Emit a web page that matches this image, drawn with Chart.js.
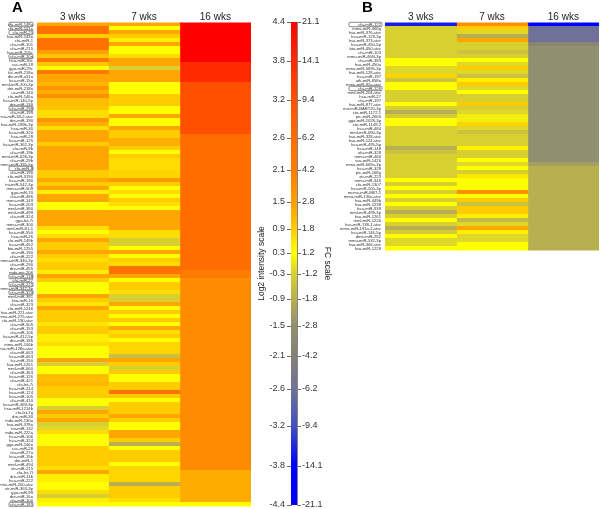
<!DOCTYPE html>
<html>
<head>
<meta charset="utf-8">
<title>miRNA heat maps</title>
<script src="https://cdn.jsdelivr.net/npm/chart.js@4/dist/chart.umd.min.js"></script>
<style>
    body { margin: 0; background: #fff; font-family: "Liberation Sans", Arial, sans-serif; }
    #page { position: relative; width: 600px; height: 509px; overflow: hidden; filter: blur(0.3px); }
    canvas { position: absolute; top: 0; }
    #chartA { left: 0; }
    #scaleBar { left: 255px; }
    #chartB { left: 340px; }
    .panel { position: absolute; top: -2px; font-size: 15px; font-weight: bold; color: #000; }
</style>
</head>
<body>
<div id="page">
    <span class="panel" style="left:12px">A</span>
    <span class="panel" style="left:362px">B</span>
    <canvas id="chartA" width="251" height="507"></canvas>
    <canvas id="scaleBar" width="78" height="509"></canvas>
    <canvas id="chartB" width="259" height="251"></canvas>
</div>
<script>
// --------------- data -----------------------
const weeks = ['3 wks', '7 wks', '16 wks'];

const labelsA = [
    'cfa-miR-148a','cfa-miR-101a','cfa-miR-21','hsa-miR-143a','cfa-miR-1','cfa-miR-101','cfa-miR-215','hsa-miR-205c','cfa-miR-10a','hsa-miR-30c',
    'ssc-miR-18','ggo-miR-29c','fsc-miR-218a','dre-miR-x51a','hsa-miR-15a','mml-miR-200-3p','dre-miR-218a','us-miR-140','cfa-miR-146a','hsa-miR-140-5p',
    'dre-miR-130','cfa-miR-296','cfa-miR-199','hsa-miR-34-2-star','dre-miR-190','hsa-miR-199b-3p','hsa-miR-30','hsa-miR-320','hsa-miR-28','hsa-miR-125',
    'hsa-miR-362-3p','cfa-miR-9b','cfa-miR-19b','mml-miR-628-3p','cfa-miR-29b','mmu-miR-335-5p','cfa-miR-8','cfa-miR-190','cfa-miR-3190','hsa-miR-190',
    'tni-miR-542-3p','mmu-miR-509','ggo-miR-70','cfa-miR-486','mmu-miR-149','hsa-miR-203','mml-miR-380','mml-miR-499','cfa-miR-324','ggo-let-7i',
    'mmu-miR-300','mml-miR-81-1','hsa-miR-550','hsa-miR-26','cfa-miR-149b','hsa-miR-452','bta-miR-1255','xtr-miR-190','cfa-miR-222','mmu-miR-340-3p',
    'cfa-miR-290','dre-miR-455','mdo-mir-206','cfa-miR-138','cfa-miR-27','cfa-miR-221','mmu-miR-342-3p','cfa-miR-320','mml-miR-381','bta-miR-16',
    'cfa-miR-323','cfa-miR-1246','hsa-miR-221-star','mmu-miR-275-star','cfa-miR-130-star','cfa-miR-505','cfa-miR-153','cfa-miR-106','hsa-miR-412-5p','dre-miR-186',
    'mmu-miR-106b','mmu-miR-128a-star','cfa-miR-663','hsa-miR-663','fsc-miR-150','hsa-miR-1261','mml-miR-660','cfa-miR-363','hsa-miR-126','cfa-miR-421',
    'cfa-let-7i','hsa-miR-214','hsa-miR-124','hsa-miR-105','cfa-miR-410','hsa-miR-369-3p','hsa-miR-1214b','cfa-let-7g','dre-miR-30','mdo-miR-130a',
    'hsa-miR-378a','tni-miR-132','mdo-miR-222a','hsa-miR-106','hsa-miR-324','ggo-miR-146a','ssc-miR-28','cfa-miR-27a','hsa-miR-15b','dre-miR-1',
    'mml-miR-494','xtr-miR-215','cfa-let-7f','dre-miR-11b','hsa-miR-222','mmu-miR-200-star','xtr-miR-363-3p','ggo-miR-99','dre-miR-16a','cfa-miR-100',
    'cfa-miR-181'
];
const boxedA = ['cfa-miR-148a','cfa-miR-21','cfa-miR-10a','cfa-miR-296','cfa-miR-8','cfa-miR-138','cfa-miR-221','cfa-miR-320','cfa-miR-181'];

const a3wks = [
    1.4,2.4,2.4,0.9,2.4,2.4,2.4,1.5,1.0,2.2,
    1.0,0.3,2.3,1.4,1.4,1.2,1.7,1.3,1.8,1.1,
    1.1,1.0,0.7,0.7,1.7,1.3,0.7,1.4,1.4,1.4,
    0.9,1.4,1.4,1.4,1.4,1.4,1.4,0.9,0.9,1.4,
    0.9,1.4,0.5,1.4,1.4,0.3,0.3,1.4,1.4,1.4,
    1.4,0.7,0.3,0.7,1.4,0.9,0.9,1.4,0.9,0.7,
    0.9,0.9,0.5,1.4,0.9,0.3,0.3,0.3,1.4,0.9,
    0.6,1.4,0.9,0.9,0.9,0.6,0.9,0.9,0.5,0.5,
    0.7,0.3,0.3,0.3,1.4,-0.3,0.3,0.3,1.1,1.1,
    1.2,0.9,0.9,0.9,0.3,0.3,-0.3,1.4,0.9,1.4,
    -0.3,-0.2,0.7,0.3,0.3,0.3,0.9,0.9,0.9,0.9,
    0.9,0.7,1.4,0.5,0.5,0.3,0.3,0.7,-0.3,0.5,0.3
];
const a7wks = [
    1.4,0.3,1.4,0.9,0.5,1.4,0.3,0.3,0.7,1.4,
    1.4,-0.3,1.4,1.4,1.4,0.3,0.3,0.3,0.9,0.9,
    0.9,0.3,0.3,1.4,0.3,0.3,1.4,0.9,0.9,1.3,
    1.3,0.9,0.3,0.9,0.7,0.7,0.7,0.8,0.8,1.6,
    0.9,0.3,0.7,0.3,0.9,0.7,0.3,1.4,1.4,1.4,
    1.4,1.4,0.7,0.7,-0.3,-0.3,0.3,1.4,0.3,0.9,
    0.7,2.4,2.4,1.4,0.3,0.9,0.9,0.7,-0.3,-0.3,
    1.4,0.3,0.9,0.3,0.9,0.3,1.4,0.7,0.9,0.3,
    0.8,0.8,0.8,-0.6,1.4,0.9,-0.3,0.9,0.3,0.3,
    0.9,0.9,2.4,0.9,0.3,0.9,0.9,0.9,1.4,0.9,
    0.3,0.3,1.4,1.4,0.9,-0.9,0.3,0.9,0.9,0.9,
    0.3,0.8,0.8,0.8,0.8,-0.9,0.9,0.9,0.9,0.7,0.3
];
const a16wks = [
    4.4,4.4,4.4,4.4,4.4,4.4,4.4,4.4,4.4,4.4,
    3.8,3.8,3.8,3.8,3.8,3.2,3.2,3.2,3.2,3.2,
    3.2,3.2,3.2,3.2,3.2,3.2,3.2,3.2,2.6,2.6,
    2.6,2.6,2.6,2.6,2.6,2.6,2.6,2.6,2.6,2.6,
    2.6,2.6,2.6,2.6,2.6,2.6,2.6,2.6,2.6,2.6,
    2.6,2.6,2.6,2.6,2.6,2.6,2.6,2.6,2.6,2.6,
    2.6,2.6,2.1,2.1,1.85,1.85,1.85,1.85,1.85,1.85,
    1.85,1.85,1.85,1.85,1.85,1.85,1.85,1.85,1.85,1.85,
    1.85,1.85,1.85,1.85,1.85,1.85,1.85,1.85,1.85,1.85,
    1.85,1.85,1.85,1.85,1.85,1.85,1.85,1.85,1.85,1.85,
    1.85,1.85,1.85,1.85,1.85,1.85,1.85,1.85,1.85,1.85,
    1.85,1.85,1.35,1.35,1.35,1.35,1.35,1.35,1.35,1.35,0.3
];

const labelsB = [
    'cfa-miR-122','mmu-miR-466g','hsa-miR-376-star','hsa-miR-129-3p','hsa-miR-373-star','hsa-miR-450-5p','bta-miR-450-star','cfa-miR-103','mmu-miR-466f-3p','cfa-miR-383',
    'hsa-miR-450a','mmu-miR-5695-3p','hsa-miR-128-star','hsa-miR-197','ath-miR-858a','mmu-miR-92a-star','cfa-miR-126','mml-miR-204-star','hsa-miR-27','cfa-miR-197',
    'hsa-miR-877-star','rno-miR-BART20-3p','cte-miR-1172.1','ptc-miR-2665','ggo-miR-1028-3p','cte-miR-1148.2','hsa-miR-484','mml-miR-690-3p','hsa-miR-328-star','hsa-miR-124-star',
    'hsa-miR-495-5p','hsa-miR-148','ofa-miR-328','mmu-miR-466','ssa-miR-1426','mmu-miR-669a-3p','hsa-miR-328','ptc-miR-168g','xtr-miR-223','mmu-miR-346',
    'cfa-miR-1307','hsa-miR-200-3p','mcmv-miR-M87-1','mmu-miR-130a-star','hsa-miR-449b','hsa-miR-1238','hsa-miR-939','mml-miR-499-3p','hsa-miR-1261','mml-miR-1226',
    'hsa-miR-138-1-star','mmu-miR-191a-2-star','hsa-miR-146-5p','dme-miR-252','mmu-miR-532-3p','hsa-miR-306-star','hsa-miR-1228'
];
const boxedB = ['cfa-miR-122','cfa-miR-126'];

const b3wks = [
    -3.6,-0.3,-0.3,-0.3,-0.3,-0.3,-0.3,-0.3,-0.3,0.3,
    0.3,-0.2,-0.2,0.8,-0.5,0.3,0.3,-0.3,-0.3,-0.3,
    0.3,-0.3,-0.9,-0.4,0.3,0.3,-0.3,-0.3,-0.3,-0.3,
    -0.3,-0.9,-0.55,-0.3,-0.3,-0.3,-0.3,-0.3,-0.3,0.3,
    -0.3,0.3,-0.3,0.3,-0.3,0.3,-0.3,-0.9,-0.3,0.3,
    -0.3,-0.9,-0.4,0.3,-0.2,-0.2,0.3
];
const b7wks = [
    1.8,0.9,-0.2,-0.9,1.4,-0.3,-0.3,-0.55,-0.3,0.3,
    -0.2,0.9,-0.2,-0.55,0.5,0.9,-0.2,0.3,-0.3,-0.3,
    0.9,-0.3,-0.2,0.1,0.1,0.8,-0.2,-0.55,-0.3,-0.3,
    -0.3,0.5,-0.3,-0.3,0.3,-0.2,0.3,-0.3,0.6,0.3,
    0.3,0.3,1.8,0.3,0.9,-0.55,0.9,0.9,0.5,-0.7,
    -0.2,1.4,0.5,-0.2,-0.2,0.3,0.3
];
const b16wks = [
    -4.4,-2.6,-2.6,-2.6,-2.6,-1.9,-1.5,-1.5,-1.5,-1.5,
    -1.5,-1.5,-1.5,-1.5,-1.5,-1.5,-1.5,-1.5,-1.5,-1.5,
    -1.5,-1.5,-1.5,-1.5,-1.5,-1.5,-1.5,-1.5,-1.5,-1.5,
    -1.5,-1.5,-1.5,-1.5,-1.5,-1.2,-0.9,-0.9,-0.9,-0.9,
    -0.9,-0.9,-0.9,-0.9,-0.9,-0.9,-0.9,-0.9,-0.9,-0.9,
    -0.9,-0.9,-0.9,-0.9,-0.9,-0.9,-0.9
];

// colour scale, top to bottom
const log2Ticks = ['4.4','3.8','3.2','2.6','2.1','1.5','0.9','0.3','-0.3','-0.9','-1.5','-2.1','-2.6','-3.2','-3.8','-4.4'];
const fcTicks = ['21.1','14.1','9.4','6.2','4.2','2.8','1.8','1.2','-1.2','-1.8','-2.8','-4.2','-6.2','-9.4','-14.1','-21.1'];
const scaleColors = ['#ff0000','#ff2a00','#ff5000','#ff6c00','#ff7c00','#ffa000','#ffcc00','#ffff00','#d8d030','#b8b050','#909070','#858075','#6f7199','#4050c0','#0000ff','#0000ff'];
// the printed scale is not evenly spaced
const scaleStops = [0,39,78,116,148,180,207,231,252,277,304,334,367,404,444,483];

// --------------- colour lookup -----------------------
const scaleValues = log2Ticks.map(Number);

function hexToRgb(hex) {
    return [1, 3, 5].map(i => parseInt(hex.substr(i, 2), 16));
}

function valueColor(v) {
    if (v >= scaleValues[0]) return scaleColors[0];
    for (let i = 1; i < scaleValues.length; i++) {
        if (v >= scaleValues[i]) {
            const t = (v - scaleValues[i]) / (scaleValues[i - 1] - scaleValues[i]);
            const lo = hexToRgb(scaleColors[i]);
            const hi = hexToRgb(scaleColors[i - 1]);
            const c = lo.map((n, k) => Math.round(n + (hi[k] - n) * t));
            return 'rgb(' + c.join(',') + ')';
        }
    }
    return scaleColors[scaleColors.length - 1];
}

// --------------- boxes round some labels -----------------------
const labelBoxes = {
    id: 'labelBoxes',
    afterDraw(chart, args, opts) {
        const yScale = chart.scales.y;
        const ctx = chart.ctx;
        ctx.save();
        ctx.strokeStyle = '#555';
        ctx.lineWidth = 0.7;
        yScale.ticks.forEach((tick, i) => {
            if (opts.names.includes(yScale.getLabelForValue(tick.value))) {
                const y = yScale.getPixelForTick(i);
                ctx.beginPath();
                ctx.roundRect(opts.left, y - 2.2, opts.width, 4.4, 1);
                ctx.stroke();
            }
        });
        ctx.restore();
    }
};

// axis label overhang would otherwise shrink the plot area
function noMargins(s) {
    s.paddingTop = s.paddingBottom = s.paddingLeft = s.paddingRight = 0;
}

// --------------- heat map -----------------------
function drawHeatmap(id, labels, series, boxed, yWidth, boxLeft, boxWidth) {
    const datasets = series.map((values, col) => ({
        label: weeks[col],
        data: values.map((v, row) => ({ x: [col, col + 1], y: labels[row], v: v })),
        backgroundColor: ctx => valueColor(ctx.raw.v),
        borderWidth: 0,
        inflateAmount: 0.5,
        barPercentage: 1,
        categoryPercentage: 1,
        grouped: false
    }));

    return new Chart(document.getElementById(id), {
        type: 'bar',
        data: { labels: labels, datasets: datasets },
        plugins: [labelBoxes],
        options: {
            indexAxis: 'y',
            responsive: false,
            animation: false,
            layout: { autoPadding: false, padding: { top: 0, left: 0, right: 0, bottom: 0.5 } },
            plugins: {
                legend: { display: false },
                tooltip: { enabled: false },
                labelBoxes: { names: boxed, left: boxLeft, width: boxWidth }
            },
            scales: {
                x: {
                    type: 'linear',
                    position: 'top',
                    min: 0,
                    max: 3,
                    grid: { display: false, drawTicks: false },
                    border: { display: false },
                    afterBuildTicks: s => { s.ticks = weeks.map((w, i) => ({ value: i + 0.5 })); },
                    afterFit: s => { s.height = 22.5; noMargins(s); },
                    ticks: {
                        callback: (v, i) => weeks[i],
                        autoSkip: false,
                        maxRotation: 0,
                        padding: -1,
                        color: '#222',
                        font: { family: 'Liberation Sans', size: 10 }
                    }
                },
                y: {
                    type: 'category',
                    grid: { display: false, drawTicks: false },
                    border: { display: false },
                    afterFit: s => { s.width = yWidth; noMargins(s); },
                    ticks: {
                        autoSkip: false,
                        padding: 4,
                        color: '#333',
                        font: { family: 'Liberation Sans', size: 4.2 }
                    }
                }
            }
        }
    });
}

// --------------- colour bar -----------------------
function drawScaleBar() {
    const axis = (position, labels, title, titlePadding, tickPadding) => ({
        type: 'linear',
        position: position,
        min: 0,
        max: scaleStops[scaleStops.length - 1],
        reverse: true,
        grid: { drawOnChartArea: false, drawTicks: true, tickLength: 4, color: '#444', lineWidth: 0.8 },
        border: { display: true, color: '#666', width: 0.8 },
        afterBuildTicks: s => { s.ticks = scaleStops.map(v => ({ value: v })); },
        afterFit: s => { s.width = 36; noMargins(s); },
        title: {
            display: true,
            text: title,
            padding: titlePadding,
            color: '#222',
            font: { family: 'Liberation Sans', size: 8.5 }
        },
        ticks: {
            callback: (v, i) => labels[i],
            autoSkip: false,
            padding: tickPadding,
            color: '#333',
            font: { family: 'Liberation Sans', size: 9 }
        }
    });

    return new Chart(document.getElementById('scaleBar'), {
        type: 'bar',
        data: {
            labels: ['scale'],
            datasets: [{
                data: [[0, scaleStops[scaleStops.length - 1]]],
                backgroundColor: ctx => {
                    const area = ctx.chart.chartArea;
                    if (!area) return scaleColors[0];
                    const g = ctx.chart.ctx.createLinearGradient(0, area.top, 0, area.bottom);
                    const top = scaleStops[scaleStops.length - 1];
                    scaleStops.forEach((s, i) => g.addColorStop(s / top, scaleColors[i]));
                    return g;
                },
                borderWidth: 0,
                barPercentage: 1,
                categoryPercentage: 1
            }]
        },
        options: {
            responsive: false,
            animation: false,
            layout: { autoPadding: false, padding: { top: 22, bottom: 4, left: 0, right: 0 } },
            plugins: { legend: { display: false }, tooltip: { enabled: false } },
            scales: {
                x: { display: false },
                y: axis('left', log2Ticks, 'Log2 intensity scale', 2, 2),
                fc: axis('right', fcTicks, 'FC scale', 1, 1)
            }
        }
    });
}

drawHeatmap('chartA', labelsA, [a3wks, a7wks, a16wks], boxedA, 37, 9, 24);
drawScaleBar();
drawHeatmap('chartB', labelsB, [b3wks, b7wks, b16wks], boxedB, 45, 9, 33);
</script>
</body>
</html>
